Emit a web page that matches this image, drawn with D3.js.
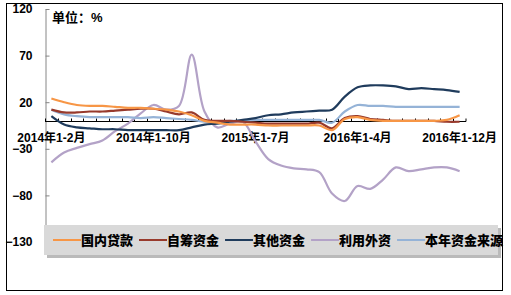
<!DOCTYPE html>
<html>
<head>
<meta charset="utf-8">
<script src="https://cdn.jsdelivr.net/npm/d3@7"></script>
<style>
body { margin: 0; background: #fff; }
text { font-family: "Liberation Sans", Arial, "Noto Sans CJK SC", sans-serif; font-weight: bold; }
</style>
</head>
<body>
<script>
var w = 511;
var h = 295;

// categories: cumulative months, 2014-2016
var months = ["1-2", "1-3", "1-4", "1-5", "1-6", "1-7", "1-8", "1-9", "1-10", "1-11", "1-12"];
var years = ["2014", "2015", "2016"];
var categories = [];
years.forEach(function (y) {
    months.forEach(function (m) { categories.push(y + "年" + m + "月"); });
});
var labelCats = ["2014年1-2月", "2014年1-10月", "2015年1-7月", "2016年1-4月", "2016年1-12月"];
var yTicks = [120, 70, 20, -30, -80, -130];

//series values (% growth)
var domesticLoans = [24, 20, 17, 16, 16, 15, 14, 14, 13, 12, 10, 6, 0, -2, -4, -4, -4, -5, -5, -5, -5, -5, -10, 2, 4, 1, 0, 0, 0, 0, 0, 1, 6];
var selfRaised = [12, 9, 9, 10, 10, 11, 12, 13, 13, 10, 7, 9, 1, 0, 0, -1, -2, -3, -3, -3, -3, -2, -8, 3, 5, 2, 1, 0, 0, 0, 0, -1, -1];
var otherFunds = [5, -4, -7, -8, -9, -9, -10, -10, -10, -10, -10, -7, -4, -3, -1, 1, 3, 6, 7, 9, 10, 11, 12, 26, 36, 38, 38, 37, 34, 35, 34, 33, 31];
var foreignInvest = [-44.5, -34, -29, -25, -21, -11, -3, 8, 17, 12, 16, 71, 10, -7, -3, -1, -22, -41, -48, -51, -52, -55, -78, -86, -70, -73, -63, -50, -54, -52, -50, -50, -54];
var totalFunds = [12, 7, 5, 4, 4, 4, 4, 3, 4, 3, 2, 1, -1, -1, 0, 0, 1, 1, 1, 1, 1, 1, -2, 10, 17, 16, 16, 15, 15, 15, 15, 15, 15];

var seriesNames = ["国内贷款", "自筹资金", "其他资金", "利用外资", "本年资金来源"];
var seriesColors = ["#F79646", "#983A2C", "#1F3B5C", "#B3A2C7", "#95B3D7"];
var seriesData = [domesticLoans, selfRaised, otherFunds, foreignInvest, totalFunds];

var svg = d3.select("body").append("svg")
    .attr("width", w)
    .attr("height", h);

//outer frame
svg.append("rect")
    .attr("x", 6.5).attr("y", 3.5)
    .attr("width", 496).attr("height", 287)
    .attr("fill", "#fff")
    .attr("stroke", "#000");

var xScale = d3.scaleBand()
    .domain(categories)
    .range([45, 466]);

var yScale = d3.scaleLinear()
    .domain([-130, 120])
    .range([242, 9]);

//y axis
var yaxis = d3.axisLeft(yScale)
    .tickValues(yTicks)
    .tickSize(0)
    .tickPadding(13);
var gy = svg.append("g")
    .attr("transform", "translate(45.5,0)")
    .call(yaxis);
gy.select(".domain").attr("stroke", "#868686");
gy.selectAll("text").attr("font-size", 12).attr("fill", "#000")
    .style("font-family", "'Liberation Sans', Arial, sans-serif");
gy.selectAll(".tick").append("line")
    .attr("x1", 0).attr("x2", 4)
    .attr("stroke", "#868686");

//x axis on zero line
var y0 = Math.round(yScale(0)) + 0.5;
svg.append("line")
    .attr("x1", 45).attr("x2", 466)
    .attr("y1", y0).attr("y2", y0)
    .attr("stroke", "#000");
svg.selectAll(".xtick")
    .data(categories.concat(["end"]))
    .enter()
    .append("line")
    .attr("class", "xtick")
    .attr("x1", function (d) { return d === "end" ? 466 : Math.round(xScale(d)) + 0.5; })
    .attr("x2", function (d) { return d === "end" ? 466 : Math.round(xScale(d)) + 0.5; })
    .attr("y1", y0 - 3)
    .attr("y2", y0)
    .attr("stroke", "#000");

var xaxis = d3.axisBottom(xScale)
    .tickValues(labelCats)
    .tickSize(0)
    .tickPadding(12);
var gx = svg.append("g")
    .attr("transform", "translate(0," + y0 + ")")
    .call(xaxis);
gx.select(".domain").remove();
gx.selectAll("text").attr("font-size", 12).attr("fill", "#000");

//lines
var line = d3.line()
    .x(function (d, i) { return xScale(categories[i]) + xScale.bandwidth() / 2; })
    .y(function (d) { return yScale(d); })
    .curve(d3.curveCatmullRom.alpha(0.5));

var order = [3, 4, 2, 1, 0];
order.forEach(function (k) {
    svg.append("path")
        .datum(seriesData[k])
        .attr("d", line)
        .attr("fill", "none")
        .attr("stroke", seriesColors[k])
        .attr("stroke-width", 2.2);
});

//unit label
svg.append("text")
    .attr("x", 52).attr("y", 22)
    .attr("font-size", 13)
    .text("单位：%");

//legend
svg.append("rect")
    .attr("x", 47).attr("y", 228)
    .attr("width", 454).attr("height", 30)
    .attr("fill", "#8c8c8c")
    .attr("opacity", 0.6);
svg.append("rect")
    .attr("x", 44).attr("y", 225)
    .attr("width", 454).attr("height", 30)
    .attr("fill", "#d9d9d9");

var lx = 53;
seriesNames.forEach(function (name, k) {
    svg.append("line")
        .attr("x1", lx).attr("x2", lx + 28)
        .attr("y1", 240).attr("y2", 240)
        .attr("stroke", seriesColors[k])
        .attr("stroke-width", 2);
    var t = svg.append("text")
        .attr("x", lx + 28).attr("y", 245)
        .attr("font-size", 13)
        .style("font-family", "'Noto Sans CJK SC', sans-serif")
        .style("font-weight", 900)
        .text(name);
    lx = lx + 28 + t.node().getComputedTextLength() + 6;
});
</script>
</body>
</html>
